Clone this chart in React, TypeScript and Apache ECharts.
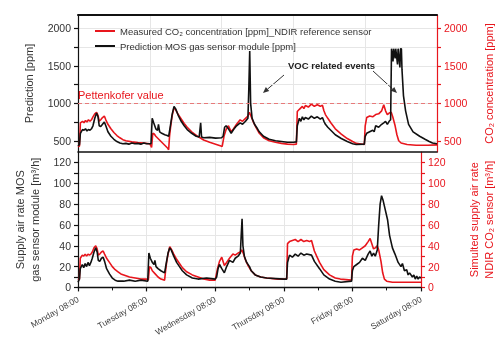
import React, { useEffect, useRef } from 'react';
import * as echarts from 'echarts';

const dayLabels = ['Monday 08:00', 'Tuesday 08:00', 'Wednesday 08:00', 'Thursday 08:00', 'Friday 08:00', 'Saturday 08:00'];
const topTicks = [500, 1000, 1500, 2000];
const topMinorTicks = [750, 1250, 1750];
const bottomTicks = [0, 20, 40, 60, 80, 100, 120];
const bottomMinorTicks = [10, 30, 50, 70, 90, 110];
const pettenkoferValue = 1000;

const redName = 'Measured CO\u2082 concentration [ppm]_NDIR reference sensor';
const blackName = 'Prediction MOS gas sensor module [ppm]';

// [hours since Monday 08:00, ppm]
const co2Measured = [
  [0, 420], [0.5, 430], [0.8, 740], [1.5, 760], [2, 740], [2.5, 770], [3, 750], [3.5, 780], [4, 760], [4.5, 780],
  [5, 820], [5.6, 860], [6.2, 880], [6.7, 840], [7.1, 760], [7.6, 780], [8.2, 810], [8.8, 830], [9.3, 780], [10, 720],
  [11, 660], [12, 610], [13, 570], [14, 540], [15, 515], [16, 500], [18, 485], [20, 475], [22, 468], [24, 460],
  [24.6, 410], [25, 600], [25.5, 590], [26, 560], [27, 520], [28, 480], [29, 440], [30, 400], [30.3, 380], [30.6, 560],
  [31, 700], [31.5, 840], [32.1, 940], [32.6, 920], [33.5, 850], [34.5, 790], [35.5, 730], [36.5, 680], [38, 620], [40, 560],
  [42, 510], [44, 480], [46, 455], [47.8, 430], [48.2, 425], [48.8, 560], [49.5, 650], [50.3, 700], [51.2, 620], [52, 660],
  [53, 720], [54.2, 780], [55, 760], [56, 800], [56.8, 830], [57.3, 880], [57.8, 830], [58.5, 760], [59.5, 680], [60.6, 600],
  [62, 540], [63.9, 500], [66, 480], [68, 465], [70, 455], [72, 450], [73, 455], [73.3, 890], [74, 920], [75, 960],
  [75.5, 930], [76, 970], [77, 950], [78, 990], [79, 960], [80, 980], [81, 960], [81.7, 975], [82.2, 900], [82.7, 850],
  [83.5, 800], [84.5, 740], [86, 660], [88, 590], [90, 530], [91.8, 490], [93, 465], [95.7, 450], [96, 700], [96.5, 810],
  [97.5, 830], [98.5, 820], [99.5, 850], [100.5, 860], [101.5, 900], [102.2, 980], [102.8, 900], [103.4, 850], [104, 870], [104.7, 880],
  [105.2, 820], [106, 700], [106.6, 580], [107.2, 500], [108, 470], [110, 450], [113, 440], [117, 440], [120, 445],
];

const mosPrediction = [
  [0, 430], [0.5, 450], [0.8, 600], [1.5, 650], [2, 640], [2.5, 660], [3, 630], [3.5, 650], [4, 640], [4.5, 660],
  [5, 700], [5.6, 800], [6.2, 870], [6.7, 820], [7.1, 700], [7.6, 690], [8.2, 720], [8.8, 750], [9.3, 700], [10, 620],
  [11, 560], [12, 520], [13, 490], [14, 470], [15, 460], [16, 465], [17, 455], [18, 470], [19, 460], [20, 465],
  [21, 455], [22, 470], [23, 460], [24.4, 460], [24.8, 800], [25.3, 740], [26, 660], [26.6, 640], [26.9, 720], [27.3, 620],
  [28, 600], [29, 580], [29.8, 570], [30.3, 560], [30.8, 680], [31.5, 860], [32.1, 960], [32.6, 930], [33.5, 840], [34.5, 760],
  [35.5, 700], [36.5, 650], [38, 600], [39.5, 560], [40.5, 550], [41, 740], [41.3, 550], [42, 540], [44, 545], [46, 535],
  [48, 540], [48.5, 560], [49, 680], [49.5, 700], [50.3, 660], [51.2, 600], [52, 650], [53, 700], [54.2, 740], [55, 720],
  [56, 760], [56.8, 800], [57.1, 1200], [57.4, 1700], [57.7, 1000], [58.2, 800], [59, 720], [60, 660], [60.6, 620], [62, 560],
  [63.9, 520], [66, 500], [68, 490], [70, 480], [72, 480], [73, 485], [73.3, 700], [74, 800], [74.5, 760], [75, 820],
  [75.5, 780], [76, 810], [77, 790], [78, 830], [79, 800], [80, 820], [81, 790], [81.7, 810], [82.2, 760], [82.7, 720],
  [83.5, 680], [84.5, 640], [86, 580], [88, 530], [90, 490], [91.8, 460], [93, 450], [95.7, 455], [96, 560], [96.5, 600],
  [97.5, 620], [98.5, 640], [99, 620], [99.5, 700], [100.5, 680], [101.5, 720], [102.2, 740], [102.8, 760], [103.4, 720], [104, 760],
  [104.5, 780], [104.8, 1730], [105.3, 1560], [105.5, 1730], [106, 1600], [106.2, 1730], [106.8, 1520], [107, 1730], [107.6, 1480], [107.8, 1730],
  [108.1, 1730], [108.3, 1450], [108.8, 1100], [109.5, 900], [110.5, 720], [112, 620], [114.2, 560], [116, 520], [117.4, 490], [118.5, 470],
  [120, 460],
];

// [hours since Monday 08:00, m³/h]
const ndirSupplyRate = [
  [0, 7], [0.5, 8], [0.8, 28], [1.5, 31], [2, 30], [2.5, 32], [3, 30], [3.5, 32], [4, 31], [4.5, 32],
  [5, 34], [5.6, 38], [6.2, 40], [6.7, 37], [7.1, 31], [7.6, 32], [8.2, 34], [8.8, 35], [9.3, 32], [10, 28],
  [11, 24], [12, 20], [13, 17], [14, 15], [15, 13], [16, 12], [18, 10], [20, 9], [22, 8], [24, 8],
  [24.6, 7], [25, 20], [25.5, 19], [26, 16], [27, 13], [28, 10], [29, 8], [30.3, 7], [30.6, 15], [31, 24],
  [31.5, 32], [32.1, 39], [32.6, 37], [33.5, 32], [34.5, 27], [35.5, 23], [36.5, 19], [38, 15], [40, 12], [42, 10],
  [44, 8], [46, 7], [48, 7], [48.8, 18], [49.5, 25], [50.3, 29], [51.2, 21], [52, 24], [53, 28], [54.2, 32],
  [55, 31], [56, 33], [56.8, 34], [57.3, 36], [57.8, 33], [58.5, 27], [59.5, 21], [60.6, 16], [62, 12], [63.9, 10],
  [66, 9], [70, 8], [73, 8], [73.3, 42], [74, 44], [75, 45], [76, 46], [77, 44], [78, 46], [79, 44],
  [80, 45], [81, 44], [81.7, 45], [82.2, 40], [82.7, 35], [83.5, 30], [84.5, 24], [86, 17], [88, 12], [90, 9],
  [91.8, 8], [95.7, 7], [96, 30], [96.5, 36], [97.5, 37], [98.5, 36], [99.5, 38], [100.5, 40], [101.5, 44], [102.2, 47],
  [102.8, 42], [103.4, 37], [104, 38], [104.7, 40], [105.2, 36], [106, 25], [106.6, 14], [107.2, 8], [108, 6], [110, 5],
  [120, 5],
];

const mosSupplyRate = [
  [0, 5], [0.5, 8], [0.8, 18], [1.5, 22], [2, 19], [2.5, 23], [3, 20], [3.5, 24], [4, 21], [4.5, 24],
  [5, 28], [5.6, 34], [6.2, 38], [6.7, 34], [7.1, 26], [7.6, 25], [8.2, 28], [8.8, 29], [9.3, 25], [10, 18],
  [11, 13], [12, 9], [13, 7], [14, 6], [16, 6], [18, 7], [20, 6], [22, 7], [24.4, 6], [24.8, 33],
  [25.3, 28], [26, 24], [26.6, 22], [26.9, 26], [27.3, 20], [28, 18], [29, 16], [30.3, 14], [30.8, 22], [31.5, 33],
  [32.1, 38], [32.6, 36], [33.5, 30], [34.5, 24], [35.5, 20], [36.5, 16], [38, 12], [40, 9], [42, 8], [45, 9],
  [48, 8], [48.5, 10], [49, 18], [49.5, 22], [50.3, 18], [51.2, 14], [52, 20], [53, 26], [54.2, 24], [55, 28],
  [56, 30], [56.8, 33], [57.1, 50], [57.4, 66], [57.7, 40], [58.2, 30], [59, 24], [60, 20], [60.6, 16], [62, 12],
  [63.9, 10], [66, 9], [72, 8], [73, 8], [73.3, 24], [74, 31], [75, 29], [76, 32], [77, 30], [78, 33],
  [79, 31], [80, 32], [81.7, 31], [82.7, 25], [84.5, 18], [86, 12], [88, 8], [90, 6], [92, 5], [95.7, 6],
  [96, 16], [96.5, 20], [97.5, 22], [98.5, 24], [99.5, 28], [100.5, 26], [101.5, 32], [102.2, 35], [102.8, 30], [103.4, 33],
  [104, 30], [104.7, 36], [105.2, 60], [105.7, 80], [106.2, 88], [106.7, 84], [107.2, 78], [108.3, 65], [109, 50], [110, 38],
  [110.9, 32], [112, 24], [113, 20], [113.5, 23], [114.2, 16], [115, 17], [115.5, 12], [116, 14], [117, 10], [117.5, 12],
  [118, 8], [118.5, 11], [119, 8], [119.5, 10], [120, 9],
];

const RED = '#e8161d';
const BLACK = '#111111';
const FONT = 'Liberation Sans, Arial, sans-serif';

function arrow(x1: number, y1: number, x2: number, y2: number) {
  const dx = x2 - x1;
  const dy = y2 - y1;
  const len = Math.sqrt(dx * dx + dy * dy);
  const ux = dx / len;
  const uy = dy / len;
  const hl = 6;
  const hw = 2.6;
  const bx = x2 - ux * hl;
  const by = y2 - uy * hl;
  return [
    { type: 'line', shape: { x1, y1, x2: bx, y2: by }, style: { stroke: '#333', lineWidth: 1 } },
    {
      type: 'polygon',
      shape: { points: [[x2, y2], [bx - uy * hw, by + ux * hw], [bx + uy * hw, by - ux * hw]] },
      style: { fill: '#333' },
    },
  ];
}

export default function App() {
  const ref = useRef<HTMLDivElement>(null);
  useEffect(() => {
    if (!ref.current) return;
    const chart = echarts.init(ref.current, null, { renderer: 'svg' });
    const grids = [
      { left: 78, right: 56, top: 15, height: 137 },
      { left: 78, right: 56, top: 152, height: 138 },
    ];
    const xBase = { type: 'value', min: 0, max: 120, interval: 24 };
    const mainY = (grid: number, pos: string, color: string, min: number, max: number,
      ticks: number[], minor: number[], name: string, gap: number) => ({
      type: 'value', gridIndex: grid, position: pos, min, max,
      name, nameLocation: 'middle', nameRotate: 90, nameGap: gap,
      nameTextStyle: { color: color === RED ? RED : '#333', fontSize: 11, fontFamily: FONT, lineHeight: 15 },
      axisLine: { show: true, onZero: false, lineStyle: { color, width: 1.2 } },
      axisTick: { show: true, customValues: [...ticks, ...minor], length: 4, lineStyle: { color, width: 1.2 } },
      axisLabel: {
        show: true, customValues: ticks, color: color === RED ? RED : '#333',
        fontSize: 10.5, fontFamily: FONT, margin: 7, formatter: (v: number) => String(v),
      },
      splitLine: { show: pos === 'left', lineStyle: { color: '#e6e6e6', width: 1 } },
    });
    const option = {
      animation: false,
      textStyle: { fontFamily: FONT },
      grid: grids,
      legend: {
        data: [redName, blackName],
        left: 90, top: 20, orient: 'vertical', itemGap: 3,
        itemWidth: 20, itemHeight: 2, icon: 'rect',
        textStyle: { fontSize: 9.5, color: '#333', fontFamily: FONT, lineHeight: 12 },
      },
      xAxis: [
        { ...xBase, gridIndex: 0, position: 'bottom',
          axisLine: { show: true, onZero: false, lineStyle: { color: BLACK, width: 1.6 } },
          axisTick: { show: false }, axisLabel: { show: false },
          splitLine: { show: true, lineStyle: { color: '#e6e6e6', width: 1 } } },
        { ...xBase, gridIndex: 0, position: 'top',
          axisLine: { show: true, onZero: false, lineStyle: { color: BLACK, width: 2 } },
          axisTick: { show: false }, axisLabel: { show: false }, splitLine: { show: false } },
        { ...xBase, gridIndex: 1, position: 'bottom',
          axisLine: { show: true, onZero: false, lineStyle: { color: BLACK, width: 1.4 } },
          axisTick: { show: true, length: 4, lineStyle: { color: BLACK, width: 1.2 } },
          minorTick: { show: true, splitNumber: 2, length: 3, lineStyle: { color: BLACK, width: 1 } },
          axisLabel: {
            show: true, rotate: 30, fontSize: 8.5, color: '#444', fontFamily: FONT, margin: 11,
            formatter: (v: number) => (v % 24 === 0 ? dayLabels[Math.round(v / 24)] : ''),
          },
          splitLine: { show: true, lineStyle: { color: '#e6e6e6', width: 1 } } },
      ],
      yAxis: [
        mainY(0, 'left', BLACK, 350, 2180, topTicks, topMinorTicks, 'Prediction [ppm]', 34),
        mainY(0, 'right', RED, 350, 2180, topTicks, topMinorTicks, 'CO\u2082 concentration [ppm]', 44),
        mainY(1, 'left', BLACK, 0, 130, bottomTicks, bottomMinorTicks, 'Supply air rate MOS\ngas sensor module [m\u00b3/h]', 35),
        mainY(1, 'right', RED, 0, 130, bottomTicks, bottomMinorTicks, 'Simulted supply air rate\nNDIR CO\u2082 sensor [m\u00b3/h]', 45),
      ],
      series: [
        {
          name: redName, type: 'line', xAxisIndex: 0, yAxisIndex: 0, data: co2Measured,
          symbol: 'none', lineStyle: { color: RED, width: 1.6 }, itemStyle: { color: RED }, z: 3,
          markLine: {
            silent: true, symbol: ['none', 'none'],
            lineStyle: { color: '#e77a7a', type: [4, 3], width: 1 },
            label: {
              show: true, position: 'insideStartTop', formatter: 'Pettenkofer value',
              color: RED, fontSize: 11, fontFamily: FONT, distance: [0, 3],
            },
            data: [{ yAxis: pettenkoferValue }],
          },
        },
        {
          name: blackName, type: 'line', xAxisIndex: 0, yAxisIndex: 0, data: mosPrediction,
          symbol: 'none', lineStyle: { color: BLACK, width: 1.6 }, itemStyle: { color: BLACK }, z: 4,
        },
        {
          name: redName, type: 'line', xAxisIndex: 2, yAxisIndex: 2, data: ndirSupplyRate,
          symbol: 'none', lineStyle: { color: RED, width: 1.6 }, itemStyle: { color: RED }, z: 3,
        },
        {
          name: blackName, type: 'line', xAxisIndex: 2, yAxisIndex: 2, data: mosSupplyRate,
          symbol: 'none', lineStyle: { color: BLACK, width: 1.6 }, itemStyle: { color: BLACK }, z: 4,
        },
      ],
      graphic: [
        {
          type: 'text', left: 288, top: 60, z: 10,
          style: { text: 'VOC related events', fontSize: 9.5, fontWeight: 'bold', fill: '#222', fontFamily: FONT },
        },
        ...arrow(284, 75, 263, 93),
        ...arrow(373, 71, 397, 93),
      ],
    };
    chart.setOption(option as any);
    return () => chart.dispose();
  }, []);
  return <div ref={ref} style={{ position: 'fixed', left: 0, top: 0, width: 504, height: 338 }} />;
}
